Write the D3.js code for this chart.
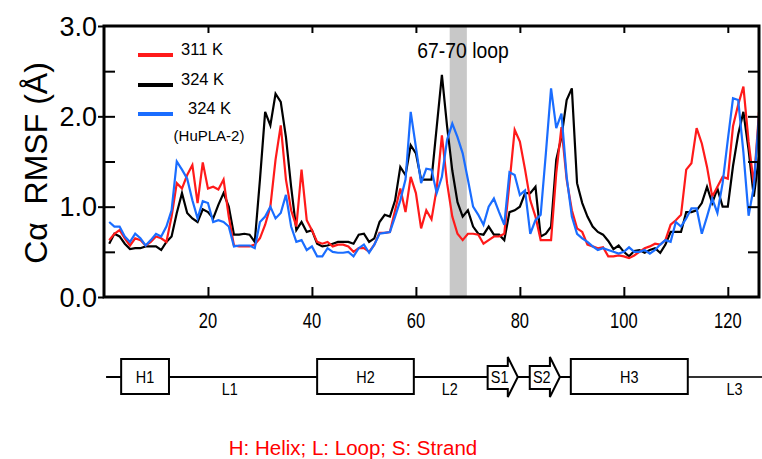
<!DOCTYPE html>
<html>
<head>
<meta charset="utf-8">
<script src="https://cdn.jsdelivr.net/npm/d3@7"></script>
<style>
  body { margin: 0; background: #fff; }
  text { font-family: "Liberation Sans", Arial, sans-serif; }
</style>
</head>
<body>
<svg id="chart" width="762" height="459"></svg>
<script>
// residue-wise C-alpha RMSF
var residues = d3.range(1, 127);
var rmsf311 = [
  0.63, 0.70, 0.74, 0.65, 0.57, 0.65, 0.63, 0.57, 0.61, 0.67,
  0.65, 0.61, 0.89, 1.26, 1.20, 1.35, 1.46, 1.04, 1.49, 1.20,
  1.22, 1.19, 1.30, 0.89, 0.57, 0.56, 0.56, 0.56, 0.58, 0.65,
  0.80, 1.00, 1.52, 1.90, 1.30, 0.96, 0.78, 1.41, 0.85, 0.74,
  0.61, 0.59, 0.61, 0.56, 0.58, 0.58, 0.56, 0.50, 0.54, 0.54,
  0.50, 0.58, 0.71, 0.71, 0.72, 0.96, 1.20, 0.94, 1.33, 1.15,
  0.76, 0.96, 0.86, 1.20, 1.79, 1.26, 0.89, 0.70, 0.63, 0.70,
  0.70, 0.69, 0.59, 0.63, 0.67, 0.67, 0.70, 1.26, 1.85, 1.72,
  1.41, 1.07, 0.89, 0.63, 0.63, 0.63, 1.37, 1.88, 1.30, 0.96,
  0.76, 0.72, 0.58, 0.56, 0.54, 0.55, 0.45, 0.45, 0.46, 0.45,
  0.43, 0.46, 0.50, 0.54, 0.56, 0.59, 0.58, 0.63, 0.80, 0.85,
  0.91, 1.41, 1.48, 1.87, 1.70, 1.44, 1.11, 1.22, 1.33, 1.31,
  1.89, 2.13, 2.33, 1.72, 1.25, 2.05
];
var rmsf324 = [
  0.59, 0.70, 0.67, 0.59, 0.53, 0.54, 0.54, 0.56, 0.56, 0.56,
  0.52, 0.61, 0.67, 0.93, 1.15, 0.93, 0.87, 0.83, 0.97, 0.94,
  0.87, 1.02, 1.15, 1.00, 0.69, 0.69, 0.70, 0.69, 0.61, 1.30,
  2.05, 1.90, 2.25, 2.16, 1.77, 1.22, 0.74, 0.83, 0.72, 0.74,
  0.59, 0.56, 0.57, 0.59, 0.61, 0.61, 0.61, 0.59, 0.69, 0.70,
  0.61, 0.65, 0.83, 0.91, 0.89, 1.07, 1.44, 1.35, 1.68, 1.59,
  1.30, 1.30, 1.30, 1.88, 2.46, 1.89, 1.40, 1.05, 0.89, 0.96,
  0.78, 0.70, 0.69, 0.78, 0.69, 0.69, 0.63, 0.94, 0.96, 1.00,
  1.15, 1.15, 1.22, 0.67, 0.70, 0.78, 1.52, 1.77, 2.18, 2.31,
  1.26, 1.04, 0.89, 0.78, 0.72, 0.69, 0.62, 0.53, 0.57, 0.50,
  0.45, 0.51, 0.52, 0.49, 0.52, 0.54, 0.49, 0.58, 0.72, 0.72,
  0.72, 0.94, 0.94, 0.96, 1.04, 1.22, 1.04, 1.20, 1.00, 1.00,
  1.45, 1.80, 2.05, 1.63, 1.11, 1.55
];
var rmsfHuPLA2 = [
  0.83, 0.78, 0.78, 0.67, 0.61, 0.70, 0.65, 0.57, 0.63, 0.70,
  0.67, 0.78, 0.96, 1.50, 1.41, 1.31, 1.07, 0.87, 1.06, 1.04,
  0.83, 0.85, 0.83, 0.78, 0.56, 0.57, 0.57, 0.57, 0.54, 0.83,
  0.89, 1.00, 0.87, 0.93, 1.13, 0.78, 0.61, 0.63, 0.52, 0.56,
  0.45, 0.45, 0.54, 0.50, 0.49, 0.49, 0.50, 0.45, 0.54, 0.58,
  0.49, 0.58, 0.70, 0.71, 0.72, 0.89, 1.07, 1.30, 2.05, 1.66,
  1.26, 1.42, 1.41, 1.15, 1.33, 1.74, 1.92, 1.77, 1.59, 1.30,
  1.00, 0.91, 0.80, 1.00, 1.09, 0.94, 0.80, 1.38, 1.35, 1.13,
  1.18, 0.70, 0.85, 0.91, 1.59, 2.31, 1.87, 2.03, 1.33, 0.89,
  0.70, 0.65, 0.61, 0.56, 0.52, 0.54, 0.52, 0.50, 0.48, 0.50,
  0.55, 0.50, 0.50, 0.52, 0.48, 0.52, 0.58, 0.63, 0.61, 0.83,
  0.78, 0.87, 0.98, 0.98, 0.70, 0.89, 1.09, 0.93, 1.26, 1.74,
  2.20, 2.18, 1.60, 0.90, 1.22, 2.00
];
var seriesNames = ['324 K', '311 K', '324 K'];
var seriesColors = ['#000000', '#ff1a1a', '#1a6dff'];
var xTicks = [20, 40, 60, 80, 100, 120];
var yTicks = [0, 0.5, 1, 1.5, 2, 2.5, 3];
var yLabels = [0, 1, 2, 3];
var loopBand = [66.5, 69.8];   // 67-70 loop

// secondary structure, in residue numbers
var structNames = ['H1', 'H2', 'S1', 'S2', 'H3'];
var structStart = [3.3, 41, 73.8, 81.9, 89.8];
var structEnd = [12.5, 59.6, 79.6, 87.7, 112.3];
var loopNames = ['L1', 'L2', 'L3'];
var loopAt = [24.2, 66.5, 121.3];

var svg = d3.select('#chart');
var pL = 104, pR = 759, pT = 26, pB = 297;

var x = d3.scaleLinear().domain([0, 126]).range([pL, pR]);
var y = d3.scaleLinear().domain([0, 3]).range([pB, pT]);

svg.append('defs').append('clipPath').attr('id', 'plotclip')
  .append('rect')
  .attr('x', pL).attr('y', pT)
  .attr('width', pR - pL).attr('height', pB - pT);

// grey band
svg.append('rect')
  .attr('x', x(loopBand[0])).attr('y', pT)
  .attr('width', x(loopBand[1]) - x(loopBand[0]))
  .attr('height', pB - pT)
  .attr('fill', '#c8c8c8');

// lines
var line = d3.line()
  .x(function(d, i) { return x(residues[i]); })
  .y(function(d) { return y(d); });

var plot = svg.append('g').attr('clip-path', 'url(#plotclip)');
[rmsf324, rmsf311, rmsfHuPLA2].forEach(function(s, i) {
  plot.append('path')
    .datum(s)
    .attr('d', line)
    .attr('fill', 'none')
    .attr('stroke', seriesColors[i])
    .attr('stroke-width', 2.2)
    .attr('stroke-linejoin', 'miter');
});

// axes: ticks drawn inward on all four sides
var tickStyle = function(g) {
  g.select('.domain').remove();
  g.selectAll('.tick line').attr('stroke', '#000').attr('stroke-width', 2);
  g.selectAll('.tick text').remove();
};
svg.append('g').attr('transform', 'translate(0,' + pB + ')')
  .call(d3.axisTop(x).tickValues(xTicks).tickSize(10)).call(tickStyle);
svg.append('g').attr('transform', 'translate(0,' + pT + ')')
  .call(d3.axisBottom(x).tickValues(xTicks).tickSize(7)).call(tickStyle);
svg.append('g').attr('transform', 'translate(' + pL + ',0)')
  .call(d3.axisRight(y).tickValues(yTicks.slice(1, -1)).tickSize(11)).call(tickStyle);
svg.append('g').attr('transform', 'translate(' + pL + ',0)')
  .call(d3.axisLeft(y).tickValues(yLabels).tickSize(6)).call(tickStyle);
svg.append('g').attr('transform', 'translate(' + pR + ',0)')
  .call(d3.axisLeft(y).tickValues(yTicks.slice(1, -1)).tickSize(11)).call(tickStyle);

// frame
svg.append('rect')
  .attr('x', pL).attr('y', pT)
  .attr('width', pR - pL).attr('height', pB - pT)
  .attr('fill', 'none').attr('stroke', '#000').attr('stroke-width', 3);

// tick labels
svg.selectAll('.ylab').data(yLabels).enter().append('text')
  .attr('class', 'ylab')
  .attr('x', 97).attr('y', function(d) { return y(d) + 9.5; })
  .attr('text-anchor', 'end')
  .attr('font-size', 27)
  .text(function(d) { return d.toFixed(1); });

svg.selectAll('.xlab').data(xTicks).enter().append('text')
  .attr('class', 'xlab')
  .attr('transform', function(d) { return 'translate(' + x(d) + ',328) scale(0.75,1)'; })
  .attr('text-anchor', 'middle')
  .attr('font-size', 22)
  .text(function(d) { return d; });

// axis title
svg.append('text')
  .attr('transform', 'translate(47,163) rotate(-90)')
  .attr('text-anchor', 'middle')
  .attr('font-size', 32)
  .style('white-space', 'pre')
  .text('C\u03b1  RMSF (\u00c5)');

// band label
svg.append('text')
  .attr('transform', 'translate(463,58) scale(0.9,1)')
  .attr('text-anchor', 'middle')
  .attr('font-size', 21.5)
  .text('67-70 loop');

// legend
var legOrder = [1, 0, 2];
var legY = [55, 85, 114];
var legTextX = [181, 181, 188];
legOrder.forEach(function(k, i) {
  svg.append('line')
    .attr('x1', 138).attr('x2', 173)
    .attr('y1', legY[i]).attr('y2', legY[i])
    .attr('stroke', seriesColors[k]).attr('stroke-width', 4);
  svg.append('text')
    .attr('x', legTextX[i]).attr('y', legY[i])
    .attr('font-size', 16.5)
    .text(seriesNames[k]);
});
svg.append('text')
  .attr('x', 209).attr('y', 141)
  .attr('text-anchor', 'middle')
  .attr('font-size', 15)
  .text('(HuPLA-2)');

// secondary structure strip
var stripY = 377;
var ss = svg.append('g');
ss.append('line')
  .attr('x1', x(0.4)).attr('x2', x(structStart[4]))
  .attr('y1', stripY).attr('y2', stripY)
  .attr('stroke', '#000').attr('stroke-width', 2);
ss.append('line')
  .attr('x1', x(structEnd[4])).attr('x2', 762)
  .attr('y1', stripY).attr('y2', stripY)
  .attr('stroke', '#333').attr('stroke-width', 2);

structNames.forEach(function(nm, i) {
  var x0 = x(structStart[i]), x1 = x(structEnd[i]);
  if (nm[0] === 'H') {
    ss.append('rect')
      .attr('x', x0).attr('y', stripY - 18)
      .attr('width', x1 - x0).attr('height', 35)
      .attr('fill', '#fff').attr('stroke', '#000').attr('stroke-width', 2);
  } else {
    var xh = x1 - 10;
    var pts = [[x0, stripY - 11], [xh, stripY - 11], [xh, stripY - 20], [x1, stripY],
               [xh, stripY + 20], [xh, stripY + 12], [x0, stripY + 12]];
    ss.append('path')
      .attr('d', 'M' + pts.join('L') + 'Z')
      .attr('fill', '#fff').attr('stroke', '#000').attr('stroke-width', 2);
  }
  var cx = nm[0] === 'H' ? (x0 + x1) / 2 : x0 + 12;
  ss.append('text')
    .attr('transform', 'translate(' + cx + ',' + (stripY + 6) + ') scale(0.85,1)')
    .attr('text-anchor', 'middle')
    .attr('font-size', 17)
    .text(nm);
});
loopNames.forEach(function(nm, i) {
  ss.append('text')
    .attr('transform', 'translate(' + x(loopAt[i]) + ',395) scale(0.85,1)')
    .attr('text-anchor', 'middle')
    .attr('font-size', 17)
    .text(nm);
});

svg.append('text')
  .attr('x', 353).attr('y', 455)
  .attr('text-anchor', 'middle')
  .attr('font-size', 20.5)
  .attr('fill', '#ff0000')
  .text('H: Helix; L: Loop; S: Strand');
</script>
</body>
</html>
